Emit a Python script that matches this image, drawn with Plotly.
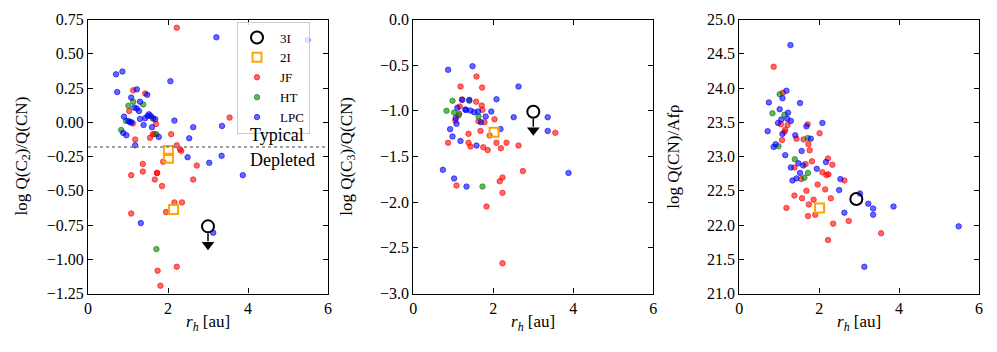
import plotly.graph_objects as go

# ---------------- data ----------------
# Panel 1: log Q(C2)/Q(CN)
c2_jf_r = [2.22, 1.13, 1.43, 1.03, 1.62, 3.54, 1.12, 1.70, 1.62, 1.66, 1.55, 2.08, 1.18, 2.22, 2.30, 2.33,
           1.88, 1.37, 2.72, 1.08, 1.37, 1.72, 1.73, 1.67, 2.63, 1.85, 2.16, 2.35, 1.95, 1.08, 2.22, 1.74, 1.81]
c2_jf_v = [0.69, 0.233, 0.21, 0.082, 0.027, 0.034, -0.01, -0.012, -0.087, -0.087, -0.114, -0.087, -0.126,
           -0.168, -0.197, -0.209, -0.289, -0.304, -0.316, -0.386, -0.36, -0.37, -0.37, -0.418, -0.418,
           -0.466, -0.585, -0.585, -0.656, -0.666, -1.055, -1.084, -1.193]
c2_ht_r = [1.13, 1.01, 1.38, 0.83, 1.71, 1.63, 0.95, 1.71]
c2_ht_v = [0.15, 0.12, 0.13, -0.056, -0.087, 0.03, 0.01, -0.926]
c2_lpc_r = [3.21, 5.49, 0.70, 0.86, 2.06, 0.73, 1.22, 1.48, 1.08, 1.30, 1.16, 1.22, 1.275, 1.525, 1.49, 1.57,
            0.90, 1.30, 1.43, 1.68, 2.16, 1.01, 1.05, 1.09, 1.39, 1.60, 2.63, 3.35, 0.88, 0.96, 1.77, 2.53,
            1.18, 2.49, 3.34, 3.03, 3.87, 1.32, 3.13]
c2_lpc_v = [0.62, 0.60, 0.35, 0.37, 0.30, 0.22, 0.24, 0.20, 0.18, 0.15, 0.107, 0.10, 0.082, 0.058, 0.046, 0.046,
            0.041, 0.024, 0.03, 0.022, 0.012, 0.01, 0.0, 0.0, -0.02, -0.036, -0.036, -0.027, -0.078, -0.095,
            -0.107, -0.117, -0.168, -0.255, -0.245, -0.296, -0.386, -0.736, -0.807]
c2_2i_r = [2.01, 2.01, 2.14]
c2_2i_v = [-0.207, -0.262, -0.637]
c2_3i_r = [3.0]
c2_3i_v = [-0.76]
c2_threshold = -0.18

# Panel 2: log Q(C3)/Q(CN)
c3_jf_r = [1.58, 1.18, 1.72, 1.22, 1.57, 1.71, 1.16, 1.73, 1.13, 1.05, 2.03, 1.63, 1.78, 1.68, 3.55, 1.91,
           1.38, 0.87, 1.38, 1.43, 1.75, 1.86, 2.08, 2.19, 2.33, 2.63, 2.74, 1.08, 2.16, 2.23, 2.23, 1.83, 2.23]
c3_jf_v = [-0.624, -0.734, -0.745, -0.876, -0.90, -0.942, -0.953, -0.989, -1.05, -1.106, -1.092, -1.113,
           -1.124, -1.22, -1.241, -1.27, -1.252, -1.35, -1.35, -1.39, -1.40, -1.43, -1.35, -1.41, -1.35,
           -1.38, -1.66, -1.818, -1.771, -1.73, -1.898, -2.048, -2.669]
c3_ht_r = [0.98, 1.40, 0.83, 1.02, 1.15, 1.63, 1.73]
c3_ht_v = [-0.89, -0.89, -1.0, -1.019, -1.033, -1.062, -1.829]
c3_lpc_r = [0.87, 1.48, 2.63, 1.22, 1.40, 2.08, 1.10, 1.30, 1.32, 1.43, 1.52, 1.62, 1.95, 1.06, 1.08, 1.81,
            2.51, 3.36, 1.69, 0.92, 2.18, 3.36, 0.98, 1.18, 1.58, 0.74, 1.02, 1.33, 3.88]
c3_lpc_v = [-0.551, -0.511, -0.734, -0.88, -0.88, -0.873, -0.967, -0.986, -0.99, -0.997, -1.015, -1.008,
            -1.008, -1.08, -1.142, -1.062, -1.07, -1.07, -1.124, -1.201, -1.20, -1.22, -1.281, -1.33,
            -1.38, -1.646, -1.741, -1.829, -1.68]
c3_2i_r = [2.02]
c3_2i_v = [-1.234]
c3_3i_r = [3.0]
c3_3i_v = [-1.01]

# Panel 3: log Q(CN)/Afrho
cn_jf_r = [0.86, 1.09, 1.04, 1.21, 1.71, 1.15, 1.13, 2.01, 1.43, 1.61, 1.07, 1.73, 1.76, 1.82, 2.22, 2.33,
           1.66, 1.38, 2.08, 2.18, 2.23, 1.55, 2.63, 1.96, 1.68, 2.15, 1.38, 1.57, 1.86, 2.29, 1.74, 1.18,
           1.90, 1.72, 2.74, 2.35, 3.55, 2.22]
cn_jf_v = [24.31, 23.93, 23.47, 23.46, 23.47, 23.39, 23.36, 23.34, 23.26, 23.25, 23.24, 23.18, 23.09, 22.93,
           22.97, 22.88, 22.89, 22.84, 22.77, 22.73, 22.74, 22.67, 22.65, 22.59, 22.50, 22.52, 22.43, 22.39,
           22.37, 22.39, 22.30, 22.25, 22.15, 22.13, 22.06, 22.02, 21.88, 21.78]
cn_ht_r = [1.01, 0.83, 1.13, 1.71, 0.98, 1.39, 1.72, 1.63]
cn_ht_v = [23.91, 23.63, 23.61, 23.27, 23.15, 22.96, 22.76, 22.69]
cn_lpc_r = [1.28, 1.18, 0.74, 1.08, 1.52, 1.01, 1.22, 1.05, 1.20, 1.29, 0.97, 2.08, 1.68, 0.71, 1.08, 1.40,
            1.79, 0.91, 0.86, 1.56, 1.15, 2.17, 1.48, 1.60, 1.29, 1.94, 1.52, 1.33, 1.43, 2.53, 2.50, 3.02,
            3.23, 3.35, 3.86, 2.63, 3.35, 5.49, 3.13]
cn_lpc_v = [24.626, 23.96, 23.79, 23.85, 23.78, 23.69, 23.64, 23.54, 23.55, 23.52, 23.49, 23.49, 23.44, 23.37,
            23.33, 23.31, 23.26, 23.18, 23.14, 23.08, 23.02, 22.92, 22.90, 22.87, 22.84, 22.82, 22.76, 22.65,
            22.68, 22.67, 22.51, 22.46, 22.31, 22.24, 22.27, 22.18, 22.15, 21.98, 21.39]
cn_2i_r = [2.01]
cn_2i_v = [22.25]
cn_3i_r = [2.93]
cn_3i_v = [22.38]

x_ticks = [0, 2, 4, 6]
c2_ticks = [0.75, 0.50, 0.25, 0.00, -0.25, -0.50, -0.75, -1.00, -1.25]
c3_ticks = [0.0, -0.5, -1.0, -1.5, -2.0, -2.5, -3.0]
cn_ticks = [25.0, 24.5, 24.0, 23.5, 23.0, 22.5, 22.0, 21.5, 21.0]

# ---------------- layout constants ----------------
W, H = 997, 352
FONT = "Liberation Serif"
x_domains_px = [(88, 328), (413.3, 653.3), (739.3, 979)]
y_top_px, y_bot_px = 19.5, 293.5
y_dom = [1 - y_bot_px / H, 1 - y_top_px / H]

RED = "rgba(255,0,0,0.6)"
GREEN = "rgba(0,128,0,0.6)"
BLUE = "rgba(0,0,255,0.6)"
ORANGE = "#FFA500"

panels = [
    dict(jf=(c2_jf_r, c2_jf_v), ht=(c2_ht_r, c2_ht_v), lpc=(c2_lpc_r, c2_lpc_v),
         i2=(c2_2i_r, c2_2i_v), i3=(c2_3i_r, c2_3i_v), upper=True,
         yrange=(-1.25, 0.75), ticks=c2_ticks, fmt="{:.2f}",
         title="log Q(C<sub>2</sub>)/Q(CN)"),
    dict(jf=(c3_jf_r, c3_jf_v), ht=(c3_ht_r, c3_ht_v), lpc=(c3_lpc_r, c3_lpc_v),
         i2=(c3_2i_r, c3_2i_v), i3=(c3_3i_r, c3_3i_v), upper=True,
         yrange=(-3.0, 0.0), ticks=c3_ticks, fmt="{:.1f}",
         title="log Q(C<sub>3</sub>)/Q(CN)"),
    dict(jf=(cn_jf_r, cn_jf_v), ht=(cn_ht_r, cn_ht_v), lpc=(cn_lpc_r, cn_lpc_v),
         i2=(cn_2i_r, cn_2i_v), i3=(cn_3i_r, cn_3i_v), upper=False,
         yrange=(21.0, 25.0), ticks=cn_ticks, fmt="{:.1f}",
         title="log Q(CN)/Afρ"),
]

fig = go.Figure()
annotations = []
shapes = []

def fmt_tick(v, fmt):
    s = fmt.format(v)
    return s.replace("-", "\u2212")

for i, p in enumerate(panels):
    n = "" if i == 0 else str(i + 1)
    xa, ya = "x" + n, "y" + n
    show = i == 0
    common = dict(xaxis=xa, yaxis=ya, mode="markers", cliponaxis=False)
    for key, name, col, rank in [("jf", "JF", RED, 3), ("ht", "HT", GREEN, 4), ("lpc", "LPC", BLUE, 5)]:
        r, v = p[key]
        fig.add_trace(go.Scatter(x=r, y=v, name=name, legendgroup=name, showlegend=show, legendrank=rank,
                                 marker=dict(size=5.5, color=col, line=dict(color=col, width=1)), **common))
    # 3I upper-limit arrows
    ymin, ymax = p["yrange"]
    unit_per_px = (ymax - ymin) / (y_bot_px - y_top_px)
    if p["upper"]:
        r3, v3 = p["i3"]
        for rr, vv in zip(r3, v3):
            fig.add_trace(go.Scatter(x=[rr, rr], y=[vv - 7 * unit_per_px, vv - 15 * unit_per_px],
                                     mode="lines", line=dict(color="black", width=1.5),
                                     xaxis=xa, yaxis=ya, showlegend=False, hoverinfo="skip"))
            fig.add_trace(go.Scatter(x=[rr], y=[vv - 18.5 * unit_per_px], mode="markers",
                                     marker=dict(symbol="triangle-down", size=11, color="black"),
                                     xaxis=xa, yaxis=ya, showlegend=False, hoverinfo="skip"))
    r2, v2 = p["i2"]
    fig.add_trace(go.Scatter(x=r2, y=v2, name="2I", legendgroup="2I", showlegend=show, legendrank=2,
                             marker=dict(symbol="square-open", size=9, color=ORANGE,
                                         line=dict(color=ORANGE, width=2)), **common))
    r3, v3 = p["i3"]
    fig.add_trace(go.Scatter(x=r3, y=v3, name="3I", legendgroup="3I", showlegend=show, legendrank=1,
                             marker=dict(symbol="circle-open", size=12, color="black",
                                         line=dict(color="black", width=2)), **common))

    x0, x1 = x_domains_px[i]
    axis_common = dict(showline=True, linecolor="black", linewidth=1.2, mirror="ticks",
                       ticks="inside", ticklen=5, tickwidth=1.2, tickcolor="black",
                       showgrid=False, zeroline=False, automargin=False,
                       tickfont=dict(family=FONT, size=16, color="black"))
    fig.layout["xaxis" + n] = dict(domain=[x0 / W, x1 / W], range=[0, 6], anchor=ya,
                                   tickvals=x_ticks, ticktext=[str(t) for t in x_ticks], **axis_common)
    fig.layout["yaxis" + n] = dict(domain=y_dom, range=[ymin, ymax], anchor=xa,
                                   tickvals=p["ticks"], ticktext=[fmt_tick(t, p["fmt"]) for t in p["ticks"]],
                                   **axis_common)
    annotations.append(dict(text=p["title"], textangle=-90, x=(x0 - 66) / W, y=(y_dom[0] + y_dom[1]) / 2,
                            xref="paper", yref="paper", xanchor="center", yanchor="middle", showarrow=False,
                            font=dict(family=FONT, size=17, color="black")))
    annotations.append(dict(text="<i>r</i><sub><i>h</i></sub> [au]", x=(x0 + x1) / 2 / W, y=1 - 323 / H,
                            xref="paper", yref="paper", xanchor="center", yanchor="middle", showarrow=False,
                            font=dict(family=FONT, size=17, color="black")))

# threshold line and labels in panel 1
shapes.append(dict(type="line", xref="x domain", yref="y", x0=0, x1=1, y0=c2_threshold, y1=c2_threshold,
                   line=dict(color="gray", width=1.5, dash="dot")))
annotations.append(dict(text="Typical", x=4.0, y=c2_threshold, xref="x", yref="y", xanchor="left",
                        yanchor="bottom", yshift=0, showarrow=False, font=dict(family=FONT, size=18, color="black")))
annotations.append(dict(text="Depleted", x=4.0, y=c2_threshold, xref="x", yref="y", xanchor="left",
                        yanchor="top", yshift=-1, showarrow=False, font=dict(family=FONT, size=18, color="black")))

fig.update_layout(
    width=W, height=H, margin=dict(l=0, r=0, t=0, b=0, autoexpand=False),
    paper_bgcolor="white", plot_bgcolor="white",
    annotations=annotations, shapes=shapes,
    legend=dict(x=237 / W, y=1 - 21.5 / H, xanchor="left", yanchor="top",
                bgcolor="rgba(255,255,255,0.8)", bordercolor="#cccccc", borderwidth=1,
                font=dict(family=FONT, size=13, color="black"), tracegroupgap=0, itemwidth=36,
                indentation=-4),
    showlegend=True,
)

fig.write_html("out.html", config={"displayModeBar": False},
               post_script="document.body.style.margin='0';document.body.style.overflow='hidden';")
